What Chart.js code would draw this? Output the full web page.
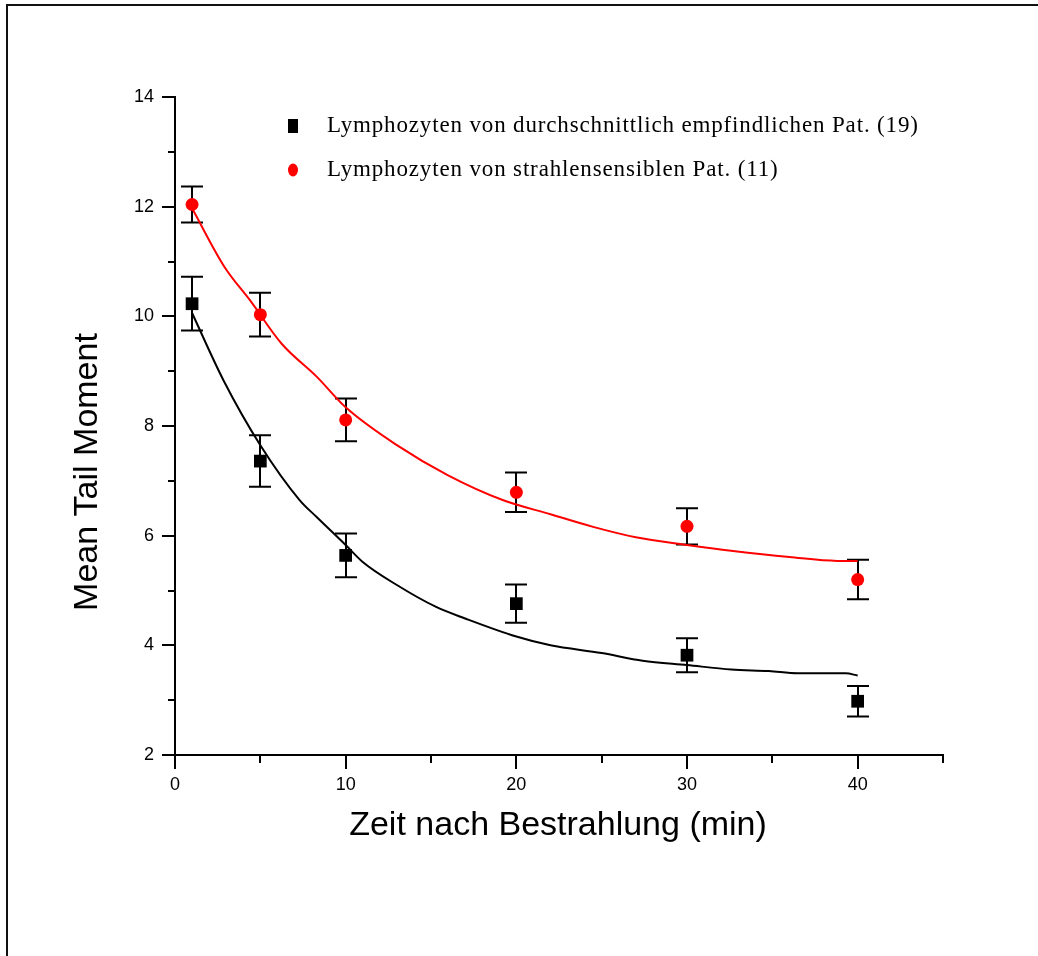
<!DOCTYPE html>
<html>
<head>
<meta charset="utf-8">
<script src="https://cdn.jsdelivr.net/npm/chart.js@4.4.0/dist/chart.umd.min.js"></script>
<style>
  html, body { margin: 0; padding: 0; background: #fff; }
  canvas { display: block; }
</style>
</head>
<body>
<canvas id="chart" width="1038" height="956"></canvas>
<script>
// measured points (min after irradiation)
const times = [1, 5, 10, 20, 30, 40];
const normalMean = [10.23, 7.36, 5.64, 4.76, 3.82, 2.98];
const normalErr = [0.49, 0.47, 0.40, 0.35, 0.31, 0.28];
const sensMean = [12.04, 10.03, 8.11, 6.79, 6.17, 5.20];
const sensErr = [0.33, 0.40, 0.39, 0.36, 0.33, 0.36];

// fitted curves
const normalFitX = [1, 2.83, 5, 7.3, 8.3, 10, 11, 13, 15.3, 17, 20, 22, 25, 27.4, 30, 32.6, 34.8, 36.5, 39.3, 40];
const normalFitY = [10.06, 8.84, 7.65, 6.65, 6.34, 5.83, 5.52, 5.10, 4.70, 4.49, 4.16, 4.0, 3.86, 3.72, 3.64, 3.56, 3.53, 3.49, 3.49, 3.45];
const sensFitX = [1, 2.9, 4.4, 6.25, 8.3, 10, 13, 16, 19.2, 22, 24.5, 27, 30, 32.7, 36, 38.8, 40];
const sensFitY = [11.97, 10.9, 10.29, 9.5, 8.9, 8.34, 7.65, 7.1, 6.65, 6.39, 6.16, 5.97, 5.83, 5.72, 5.61, 5.54, 5.54];

// axes
const xTicks = [0, 10, 20, 30, 40];
const xMinor = [5, 15, 25, 35, 45];
const yTicks = [2, 4, 6, 8, 10, 12, 14];
const yMinor = [3, 5, 7, 9, 11, 13];

const legendLabels = [
  'Lymphozyten von durchschnittlich empfindlichen Pat. (19)',
  'Lymphozyten von strahlensensiblen Pat. (11)'
];
const xTitle = 'Zeit nach Bestrahlung (min)';
const yTitle = 'Mean Tail Moment';

const toXY = (xs, ys) => xs.map((x, i) => ({ x: x, y: ys[i] }));

const extras = {
  id: 'extras',
  beforeDatasetsDraw(chart) {
    const ctx = chart.ctx, xs = chart.scales.x, ys = chart.scales.y;
    ctx.save();
    ctx.strokeStyle = '#000';
    ctx.lineWidth = 2;
    [[normalMean, normalErr], [sensMean, sensErr]].forEach(([m, e]) => {
      times.forEach((t, i) => {
        const px = Math.round(xs.getPixelForValue(t));
        const top = ys.getPixelForValue(m[i] + e[i]);
        const bot = ys.getPixelForValue(m[i] - e[i]);
        ctx.beginPath();
        ctx.moveTo(px, top); ctx.lineTo(px, bot);
        ctx.moveTo(px - 11, top); ctx.lineTo(px + 11, top);
        ctx.moveTo(px - 11, bot); ctx.lineTo(px + 11, bot);
        ctx.stroke();
      });
    });
    ctx.restore();
  },
  afterDraw(chart) {
    const ctx = chart.ctx, xs = chart.scales.x, ys = chart.scales.y;
    const area = chart.chartArea;
    ctx.save();
    // minor ticks
    ctx.strokeStyle = '#000';
    ctx.lineWidth = 2;
    ctx.beginPath();
    xMinor.forEach(v => {
      const px = Math.round(xs.getPixelForValue(v));
      ctx.moveTo(px, area.bottom); ctx.lineTo(px, area.bottom + 8);
    });
    yMinor.forEach(v => {
      const py = Math.round(ys.getPixelForValue(v));
      ctx.moveTo(area.left, py); ctx.lineTo(area.left - 7, py);
    });
    ctx.stroke();

    // axis titles
    ctx.fillStyle = '#000';
    ctx.font = '34px "Liberation Sans", Arial, sans-serif';
    ctx.textAlign = 'center';
    ctx.textBaseline = 'alphabetic';
    ctx.fillText(xTitle, 558, 835);
    ctx.save();
    ctx.translate(97, 472);
    ctx.rotate(-Math.PI / 2);
    ctx.fillText(yTitle, 0, 0);
    ctx.restore();

    // legend
    ctx.font = '23px "Liberation Serif", "Times New Roman", serif';
    ctx.textAlign = 'left';
    ctx.textBaseline = 'middle';
    ctx.letterSpacing = '0.85px';
    ctx.fillText(legendLabels[0], 327, 126);
    ctx.fillText(legendLabels[1], 327, 170);
    ctx.letterSpacing = '0px';
    ctx.fillRect(288, 119, 10, 14);
    ctx.fillStyle = '#ff0000';
    ctx.beginPath();
    ctx.ellipse(293, 170, 5, 6.5, 0, 0, Math.PI * 2);
    ctx.fill();

    // page frame
    ctx.fillStyle = '#111';
    ctx.fillRect(6, 4, 1032, 2);
    ctx.fillRect(6, 4, 2, 952);
    ctx.restore();
  }
};

new Chart(document.getElementById('chart'), {
  type: 'scatter',
  data: {
    datasets: [
      {
        label: legendLabels[1],
        data: toXY(times, sensMean),
        pointStyle: 'circle',
        pointRadius: 6.5,
        backgroundColor: '#ff0000',
        borderColor: '#ff0000',
        borderWidth: 0
      },
      {
        label: legendLabels[0],
        data: toXY(times, normalMean),
        pointStyle: 'rect',
        pointRadius: 9,
        backgroundColor: '#000',
        borderColor: '#000',
        borderWidth: 0
      },
      {
        label: 'fit sensitive',
        data: toXY(sensFitX, sensFitY),
        showLine: true,
        pointRadius: 0,
        borderColor: '#ff0000',
        borderWidth: 2,
        cubicInterpolationMode: 'monotone'
      },
      {
        label: 'fit normal',
        data: toXY(normalFitX, normalFitY),
        showLine: true,
        pointRadius: 0,
        borderColor: '#000',
        borderWidth: 2,
        cubicInterpolationMode: 'monotone'
      }
    ]
  },
  options: {
    responsive: false,
    animation: false,
    devicePixelRatio: 1,
    layout: { padding: { left: 0, right: 95, top: 97, bottom: 0 } },
    plugins: {
      legend: { display: false },
      tooltip: { enabled: false }
    },
    scales: {
      x: {
        type: 'linear',
        min: 0,
        max: 45,
        afterBuildTicks: s => { s.ticks = xTicks.map(v => ({ value: v })); },
        afterFit: s => { s.height = 201; },
        grid: { display: true, drawOnChartArea: false, drawTicks: true, tickLength: 14, color: '#000', lineWidth: 2 },
        border: { display: true, color: '#000', width: 2 },
        ticks: { color: '#000', padding: 5, maxRotation: 0, font: { family: '"Liberation Sans", Arial, sans-serif', size: 18 } }
      },
      y: {
        type: 'linear',
        min: 2,
        max: 14,
        afterBuildTicks: s => { s.ticks = yTicks.map(v => ({ value: v })); },
        afterFit: s => { s.width = 175; },
        grid: { display: true, drawOnChartArea: false, drawTicks: true, tickLength: 13, color: '#000', lineWidth: 2 },
        border: { display: true, color: '#000', width: 2 },
        ticks: { color: '#000', padding: 8, font: { family: '"Liberation Sans", Arial, sans-serif', size: 18 } }
      }
    }
  },
  plugins: [extras]
});
</script>
</body>
</html>
